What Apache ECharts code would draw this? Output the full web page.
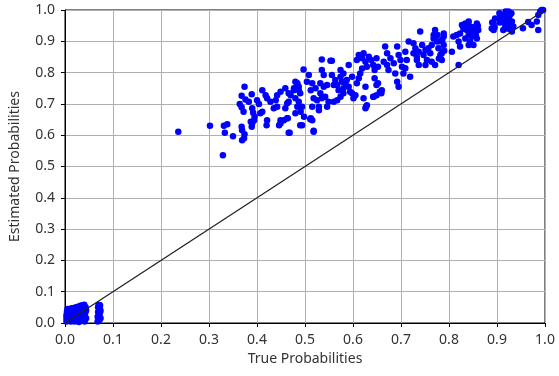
<!DOCTYPE html>
<html>
<head>
<meta charset="utf-8">
<script src="https://cdn.jsdelivr.net/npm/echarts@6/dist/echarts.min.js"></script>
<style>
  html, body { margin: 0; padding: 0; background: #fff; }
  #chart { width: 559px; height: 376px; }
</style>
</head>
<body>
<div id="chart"></div>
<script>
// tick labels on both axes
const tickValues = [0, 0.1, 0.2, 0.3, 0.4, 0.5, 0.6, 0.7, 0.8, 0.9, 1.0];

// estimated vs true: [true, estimated]
const mainPoints = [
  [0.236,0.611],[0.302,0.630],[0.329,0.536],[0.331,0.630],[0.338,0.635],[0.333,0.608],[0.350,0.597],
  [0.368,0.627],[0.369,0.616],[0.374,0.603],[0.369,0.584],[0.373,0.590],[0.374,0.755],[0.368,0.726],
  [0.389,0.731],[0.364,0.700],[0.368,0.689],[0.372,0.675],[0.376,0.714],[0.383,0.707],[0.390,0.686],
  [0.392,0.672],[0.395,0.659],[0.387,0.643],[0.390,0.638],[0.394,0.648],[0.389,0.627],[0.407,0.670],
  [0.411,0.675],[0.404,0.700],[0.400,0.712],[0.411,0.744],[0.418,0.728],[0.421,0.718],[0.421,0.648],
  [0.420,0.632],[0.428,0.707],[0.439,0.712],[0.442,0.728],[0.449,0.739],[0.459,0.750],[0.466,0.734],
  [0.477,0.744],[0.484,0.766],[0.435,0.686],[0.442,0.691],[0.463,0.702],[0.459,0.686],[0.466,0.707],
  [0.449,0.638],[0.456,0.648],[0.463,0.654],[0.468,0.608],[0.480,0.670],[0.484,0.691],[0.487,0.755],
  [0.497,0.810],[0.480,0.771],[0.484,0.760],[0.477,0.750],[0.487,0.744],[0.490,0.734],[0.470,0.728],
  [0.480,0.718],[0.487,0.707],[0.494,0.691],[0.491,0.675],[0.498,0.659],[0.494,0.632],[0.518,0.611],
  [0.512,0.654],[0.515,0.648],[0.508,0.792],[0.504,0.771],[0.515,0.766],[0.512,0.744],[0.522,0.750],
  [0.518,0.718],[0.525,0.712],[0.515,0.691],[0.535,0.842],[0.553,0.838],[0.556,0.838],[0.535,0.808],
  [0.539,0.792],[0.532,0.766],[0.539,0.755],[0.546,0.760],[0.532,0.734],[0.535,0.718],[0.542,0.723],
  [0.546,0.691],[0.549,0.707],[0.529,0.691],[0.560,0.707],[0.567,0.712],[0.574,0.723],[0.556,0.792],
  [0.563,0.776],[0.560,0.760],[0.567,0.760],[0.574,0.787],[0.577,0.771],[0.570,0.744],[0.580,0.750],
  [0.584,0.766],[0.587,0.776],[0.591,0.755],[0.574,0.808],[0.580,0.797],[0.591,0.824],[0.598,0.787],
  [0.594,0.739],[0.580,0.734],[0.598,0.734],[0.601,0.718],[0.605,0.728],[0.608,0.766],[0.612,0.782],
  [0.615,0.797],[0.619,0.813],[0.612,0.856],[0.619,0.846],[0.608,0.840],[0.622,0.862],[0.626,0.835],
  [0.629,0.819],[0.633,0.851],[0.626,0.755],[0.622,0.718],[0.629,0.696],[0.626,0.686],[0.638,0.840],
  [0.642,0.824],[0.649,0.846],[0.645,0.808],[0.652,0.819],[0.645,0.782],[0.649,0.760],[0.652,0.766],
  [0.656,0.739],[0.659,0.734],[0.649,0.728],[0.642,0.723],
  [0.518,0.614],[0.466,0.608],[0.490,0.632],[0.511,0.651],[0.627,0.691],[0.643,0.723],[0.660,0.744],
  [0.529,0.680],[0.446,0.632],[0.449,0.648],[0.464,0.654],
  [0.667,0.883],[0.671,0.862],[0.664,0.835],[0.671,0.824],[0.678,0.846],[0.674,0.808],[0.685,0.830],
  [0.692,0.883],[0.695,0.856],[0.688,0.797],[0.699,0.840],[0.702,0.819],[0.692,0.771],[0.695,0.755],
  [0.709,0.867],[0.712,0.840],[0.716,0.899],[0.709,0.814],[0.705,0.797],[0.719,0.787],[0.726,0.862],
  [0.733,0.840],
  [0.740,0.931],[0.726,0.894],[0.730,0.878],[0.737,0.867],[0.733,0.851],[0.744,0.888],[0.751,0.872],
  [0.747,0.856],[0.757,0.878],[0.761,0.862],[0.754,0.840],[0.764,0.888],[0.768,0.909],[0.771,0.936],
  [0.768,0.920],[0.775,0.899],[0.778,0.878],[0.782,0.856],[0.785,0.862],[0.789,0.888],[0.789,0.915],
  [0.785,0.840],[0.771,0.824],[0.751,0.824],[0.737,0.824],[0.764,0.835],[0.789,0.925],
  [0.776,0.920],[0.780,0.900],[0.786,0.905],[0.790,0.870],[0.779,0.845],
  [0.806,0.867],[0.809,0.915],[0.816,0.920],[0.823,0.925],[0.820,0.899],[0.823,0.883],[0.827,0.952],
  [0.834,0.957],[0.841,0.963],[0.844,0.947],[0.837,0.936],[0.841,0.920],[0.834,0.909],[0.844,0.899],
  [0.848,0.915],[0.854,0.931],[0.858,0.957],[0.861,0.936],[0.858,0.909],[0.851,0.888],[0.841,0.888],
  [0.820,0.824],[0.846,0.930],[0.852,0.945],[0.856,0.920],[0.860,0.950],[0.836,0.945],[0.830,0.940],
  [0.889,0.941],[0.893,0.957],[0.896,0.973],[0.893,0.936],[0.910,0.984],[0.913,0.968],[0.917,0.952],
  [0.913,0.936],[0.920,0.979],[0.924,0.995],[0.927,0.984],[0.931,0.963],[0.934,0.947],[0.931,0.931],
  [0.927,0.952],[0.920,0.941],[0.905,0.990],[0.908,0.975],[0.906,0.960],[0.922,0.965],[0.925,0.970],
  [0.930,0.990],[0.918,0.995],[0.895,0.945],[0.890,0.960],[0.928,0.938],
  [0.954,0.942],[0.965,0.962],[0.972,0.952],[0.983,0.963],[0.986,0.984],[0.990,0.995],[0.993,1.000],
  [0.996,1.000],[0.986,0.936]
];

// tight group near the origin
const lowPoints = [
  [0.003,0.005],[0.003,0.015],[0.003,0.025],[0.004,0.035],[0.005,0.045],[0.008,0.010],[0.008,0.030],
  [0.009,0.045],[0.012,0.005],[0.012,0.020],[0.013,0.040],[0.014,0.047],[0.016,0.012],[0.017,0.030],
  [0.018,0.048],[0.020,0.005],[0.021,0.022],[0.022,0.040],[0.023,0.050],[0.025,0.012],[0.026,0.032],
  [0.027,0.052],[0.029,0.003],[0.030,0.022],[0.031,0.045],[0.032,0.055],[0.034,0.010],[0.035,0.035],
  [0.036,0.057],[0.038,0.020],[0.039,0.045],[0.040,0.058],[0.041,0.005],[0.042,0.030],[0.043,0.050],
  [0.044,0.015],[0.044,0.040],
  [0.068,0.005],[0.068,0.020],[0.069,0.035],[0.069,0.050],[0.070,0.058],[0.072,0.010],[0.072,0.028],
  [0.073,0.045],[0.073,0.057],[0.074,0.015],[0.074,0.038]
];

// reference line y = x
const diagonal = [[0, 0], [1, 1]];

const chart = echarts.init(document.getElementById('chart'));

const axisCommon = {
  type: 'value',
  min: 0,
  max: 1,
  interval: 0.1,
  nameLocation: 'middle',
  nameTextStyle: { fontFamily: 'Noto Sans', fontSize: 14, color: '#333' },
  axisLine: { show: true, lineStyle: { color: '#000', width: 1 } },
  axisTick: { show: true, length: 4, lineStyle: { color: '#000' } },
  axisLabel: {
    fontFamily: 'Noto Sans',
    fontSize: 14,
    color: '#333',
    margin: 10,
    formatter: (v) => {
      const hit = tickValues.find((t) => Math.abs(t - v) < 1e-6);
      return hit === undefined ? '' : hit.toFixed(1);
    },
  },
  splitLine: { show: true, lineStyle: { color: '#b0b0b0', width: 1 } },
};

chart.setOption({
  animation: false,
  grid: {
    left: 64, right: 14, top: 10, bottom: 53,
    show: true, borderColor: '#000', borderWidth: 1,
  },
  xAxis: {
    ...axisCommon,
    name: 'True Probabilities',
    nameGap: 29,
  },
  yAxis: {
    ...axisCommon,
    name: 'Estimated Probabilities',
    nameGap: 43,
  },
  series: [
    {
      type: 'scatter',
      data: mainPoints,
      symbolSize: 6.5,
      itemStyle: { color: '#0000ff', opacity: 1 },
      clip: true,
      z: 2,
    },
    {
      type: 'scatter',
      data: lowPoints,
      symbolSize: 6.5,
      itemStyle: { color: '#0000ff', opacity: 1 },
      clip: true,
      z: 2,
    },
    {
      type: 'line',
      data: diagonal,
      symbol: 'none',
      lineStyle: { color: '#222', width: 1.3 },
      z: 3,
    },
  ],
});
</script>
</body>
</html>
